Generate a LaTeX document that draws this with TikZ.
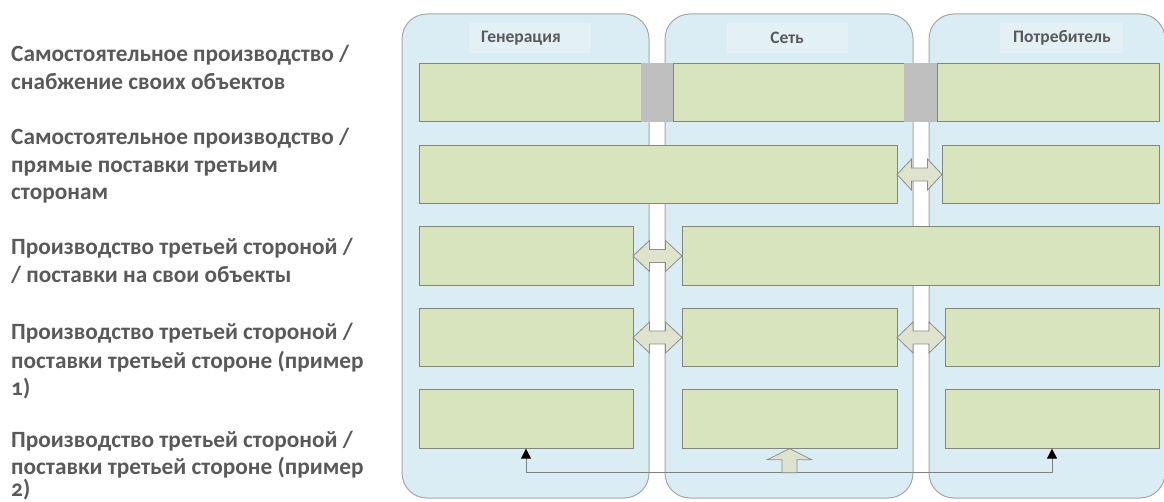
\documentclass[tikz,border=0pt]{standalone}
\usepackage{fontspec}
\setmainfont{Carlito}[Numbers=OldStyle]
\usetikzlibrary{calc,arrows.meta}
\definecolor{colfill}{HTML}{DBEDF4}
\definecolor{colline}{HTML}{A6A6A6}
\definecolor{hdrfill}{HTML}{E3F1F7}
\definecolor{barfill}{HTML}{D7E4BD}
\definecolor{barline}{HTML}{858578}
\definecolor{gapgray}{HTML}{BFBFBF}
\definecolor{arrfill}{HTML}{DFE3CE}
\definecolor{arrline}{HTML}{8C8C8C}
\definecolor{txt}{HTML}{595959}
\tikzset{
  col/.style={draw=colline, fill=colfill, line width=1pt, rounded corners=25pt, inner sep=0pt},
  hdr/.style={fill=hdrfill, inner sep=0pt, minimum height=30pt},
  hdrtext/.style={text=txt, font=\fontsize{17.5}{20}\selectfont\bfseries, inner sep=0pt},
  bar/.style={draw=barline, fill=barfill, line width=0.8pt, inner sep=0pt, minimum height=58.5pt},
  gapbox/.style={fill=gapgray, inner sep=0pt, minimum height=58.5pt},
  dblarrow/.style={draw=arrline, fill=arrfill, line width=0.8pt, line join=miter},
  blockarrow/.style={draw=arrline, fill=arrfill, line width=0.8pt},
  flow/.style={draw=gray, line width=0.9pt, {Triangle[width=10pt,length=10pt,black]}-{Triangle[width=10pt,length=10pt,black]}},
  lbl/.style={text=txt, font=\fontsize{23.3}{27.5}\selectfont\bfseries, anchor=base west, inner sep=0pt}
}
\newcommand\dblarr[2]{% center, half length
  \draw[dblarrow] (#1) ++(-#2,0) -- ++(#2-8,-15.5) -- ++(0,9) -- ++(16,0) -- ++(0,-9)
    -- ++(#2-8,15.5) -- ++(-#2+8,15.5) -- ++(0,-9) -- ++(-16,0) -- ++(0,9) -- cycle;}
\begin{document}
\begin{tikzpicture}[x=1pt,y=-1pt]
\useasboundingbox (0,0) rectangle (1164,502);
\clip (0,0) rectangle (1164,502);
% columns
\node[col, minimum width=247pt, minimum height=484pt] (colG) at (525.5,256) {};
\node[col, minimum width=248pt, minimum height=484pt] (colN) at (789,256) {};
\node[col, minimum width=236pt, minimum height=484pt] (colC) at (1047,256) {};
% headers
\node[hdr, minimum width=122pt] (hG) at (530,38) {};
\node[hdr, minimum width=121pt] (hN) at (787.5,38) {};
\node[hdr, minimum width=123pt] (hC) at (1061.5,38) {};
\node[hdrtext] (tG) at (521,38) {Генерация};
\node[hdrtext] (tN) at (787,38) {Сеть};
\node[hdrtext] (tC) at (1062,38) {Потребитель};
% row 1
\node[bar, minimum width=222pt] (g1) at (530,92.5) {};
\node[gapbox, minimum width=32pt] (k1) at (657,92.5) {};
\node[bar, minimum width=231pt] (n1) at (788.5,92.5) {};
\node[gapbox, minimum width=33pt] (k2) at (920.5,92.5) {};
\node[bar, minimum width=222pt] (c1) at (1048,92.5) {};
% row 2
\node[bar, minimum width=478pt] (gn2) at (658,174.5) {};
\node[bar, minimum width=217pt] (c2) at (1050.5,174.5) {};
% row 3
\node[bar, minimum width=214pt] (g3) at (526,256) {};
\node[bar, minimum width=477pt] (nc3) at (920.5,256) {};
% row 4
\node[bar, minimum width=214pt] (g4) at (526,337.5) {};
\node[bar, minimum width=215pt] (n4) at (789.5,337.5) {};
\node[bar, minimum width=214pt] (c4) at (1052,337.5) {};
% row 5
\node[bar, minimum width=214pt] (g5) at (526,419) {};
\node[bar, minimum width=215pt] (n5) at (789.5,419) {};
\node[bar, minimum width=214pt] (c5) at (1052,419) {};
% double arrows
\coordinate (a2) at ($(gn2.east)!0.5!(c2.west)$);
\coordinate (a3) at ($(g3.east)!0.5!(nc3.west)$);
\coordinate (a4l) at ($(g4.east)!0.5!(n4.west)$);
\coordinate (a4r) at ($(n4.east)!0.5!(c4.west)$);
\dblarr{a2}{22.5}
\dblarr{a3}{24.5}
\dblarr{a4l}{24.5}
\dblarr{a4r}{24}
% bottom flow
\coordinate (fl) at ($(g5.south)+(0,24)$);
\draw[flow] (g5.south) -- (fl) -| (c5.south);
\draw[blockarrow] (n5.south) -- ++(22,11) -- ++(-14.5,0) -- ++(0,13) -- ++(-15,0) -- ++(0,-13) -- ++(-14.5,0) -- cycle;
% left labels
\node[lbl] (l1a) at (11,62) {Самостоятельное производство /};
\node[lbl] (l1b) at (11,90) {снабжение своих объектов};
\node[lbl] (l2a) at (11,145) {Самостоятельное производство /};
\node[lbl] (l2b) at (11,173) {прямые поставки третьим};
\node[lbl] (l2c) at (11,200) {сторонам};
\node[lbl] (l3a) at (11,255) {Производство третьей стороной /};
\node[lbl] (l3b) at (11,283) {/ поставки на свои объекты};
\node[lbl] (l4a) at (11,340) {Производство третьей стороной /};
\node[lbl] (l4b) at (11,368) {поставки третьей стороне (пример};
\node[lbl] (l4c) at (11,395) {1)};
\node[lbl] (l5a) at (11,447) {Производство третьей стороной /};
\node[lbl] (l5b) at (11,474) {поставки третьей стороне (пример};
\node[lbl] (l5c) at (11,496) {2)};
\end{tikzpicture}
\end{document}
